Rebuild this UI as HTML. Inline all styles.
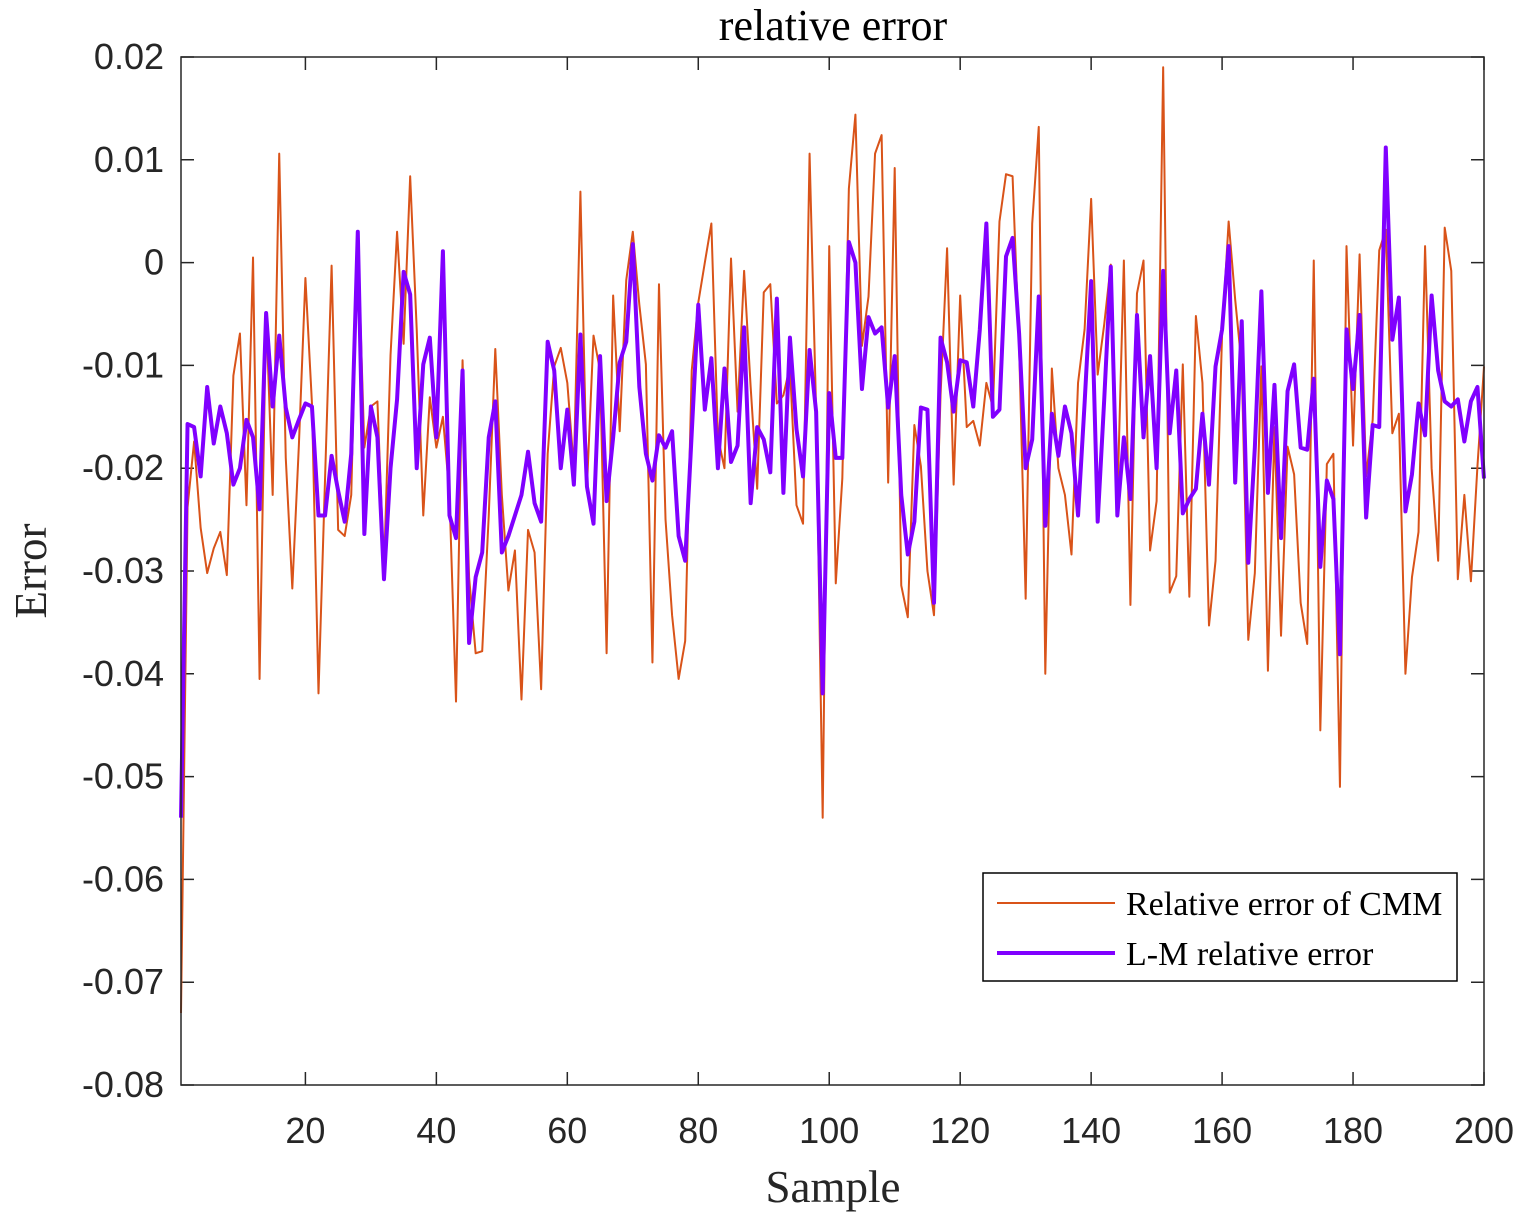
<!DOCTYPE html>
<html><head><meta charset="utf-8"><style>
html,body{margin:0;padding:0;background:#fff;}
svg{display:block;}
</style></head><body>
<svg id="chart" width="1533" height="1227" viewBox="0 0 1533 1227" xmlns="http://www.w3.org/2000/svg">
<rect width="1533" height="1227" fill="#fff"/>
<text x="833" y="40" font-family="Liberation Serif, serif" font-size="44" text-anchor="middle" fill="#000">relative error</text>
<g id="axes"></g>
<g id="series"></g>
<rect x="181" y="57" width="1303" height="1028" fill="none" stroke="#262626" stroke-width="1.5"/>
<text x="833" y="1202" font-family="Liberation Serif, serif" font-size="45" text-anchor="middle" fill="#262626">Sample</text>
<text transform="translate(46,571) rotate(-90)" font-family="Liberation Serif, serif" font-size="45" text-anchor="middle" fill="#262626">Error</text>
<g>
<rect x="983" y="873" width="474" height="108" fill="#fff" stroke="#000" stroke-width="1.5"/>
<line x1="997" y1="903" x2="1115" y2="903" stroke="#D95319" stroke-width="2"/>
<text x="1126" y="915" font-family="Liberation Serif, serif" font-size="34" fill="#000">Relative error of CMM</text>
<line x1="997" y1="953" x2="1115" y2="953" stroke="#8000FF" stroke-width="4"/>
<text x="1126" y="965" font-family="Liberation Serif, serif" font-size="34" fill="#000">L-M relative error</text>
</g>
</svg>
<script>
const xTicks = [20,40,60,80,100,120,140,160,180,200];
const yTicks = [0.02,0.01,0,-0.01,-0.02,-0.03,-0.04,-0.05,-0.06,-0.07,-0.08];
const yTickLabels = ["0.02","0.01","0","-0.01","-0.02","-0.03","-0.04","-0.05","-0.06","-0.07","-0.08"];
const cmmError = [-0.073,-0.0238,-0.0174,-0.0258,-0.0302,-0.0278,-0.0262,-0.0304,-0.011,-0.0069,
-0.0236,0.0005,-0.0405,-0.0049,-0.0226,0.0106,-0.019,-0.0317,-0.0178,-0.0015,
-0.0137,-0.0419,-0.021,-0.0003,-0.026,-0.0266,-0.0226,0.0028,-0.018,-0.014,
-0.0135,-0.030,-0.009,0.003,-0.0079,0.0084,-0.0065,-0.0246,-0.0131,-0.018,
-0.015,-0.0226,-0.0427,-0.0095,-0.0306,-0.038,-0.0378,-0.0246,-0.0084,-0.0226,
-0.0319,-0.028,-0.0425,-0.026,-0.0282,-0.0415,-0.0186,-0.0101,-0.0083,-0.0117,
-0.020,0.0069,-0.0218,-0.0071,-0.0105,-0.038,-0.0032,-0.0164,-0.0017,0.003,
-0.0041,-0.0099,-0.0389,-0.0021,-0.025,-0.0343,-0.0405,-0.0368,-0.0105,-0.0039,
0,0.0038,-0.017,-0.020,0.0004,-0.0145,-0.0008,-0.0121,-0.022,-0.0029,
-0.0021,-0.0137,-0.0129,-0.0101,-0.0236,-0.0254,0.0106,-0.0145,-0.054,0.0016,
-0.0312,-0.021,0.0072,0.0144,-0.0081,-0.0033,0.0106,0.0124,-0.0214,0.0092,
-0.0314,-0.0345,-0.0158,-0.0198,-0.030,-0.0343,-0.0129,0.0014,-0.0216,-0.0032,
-0.016,-0.0154,-0.0178,-0.0117,-0.0141,0.004,0.0086,0.0084,-0.0081,-0.0327,
0.0038,0.0132,-0.040,-0.0103,-0.020,-0.0226,-0.0284,-0.0117,-0.0065,0.0062,
-0.0109,-0.006,-0.0002,-0.0234,0.0002,-0.0333,-0.003,0.0002,-0.028,-0.0232,
0.019,-0.0321,-0.0305,-0.0099,-0.0325,-0.0052,-0.0117,-0.0353,-0.029,-0.0069,
0.004,-0.0036,-0.0101,-0.0367,-0.0302,-0.0101,-0.0397,-0.016,-0.0363,-0.0179,
-0.0206,-0.0331,-0.0371,0.0002,-0.0455,-0.0196,-0.0186,-0.051,0.0016,-0.0178,
0.0008,-0.0208,-0.0153,0.0012,0.0032,-0.0166,-0.0147,-0.040,-0.0306,-0.0262,
0.0016,-0.020,-0.029,0.0034,-0.0008,-0.0308,-0.0226,-0.031,-0.0198,-0.0101];
const lmError = [-0.054,-0.0157,-0.016,-0.0208,-0.0121,-0.0176,-0.014,-0.0166,-0.0216,-0.020,
-0.0153,-0.017,-0.024,-0.0049,-0.014,-0.0071,-0.0141,-0.017,-0.0153,-0.0137,
-0.014,-0.0246,-0.0246,-0.0188,-0.0222,-0.0252,-0.0186,0.003,-0.0264,-0.014,
-0.017,-0.0308,-0.020,-0.0133,-0.0009,-0.0031,-0.020,-0.0099,-0.0073,-0.017,
0.0011,-0.0246,-0.0268,-0.0105,-0.037,-0.0306,-0.0282,-0.017,-0.0135,-0.0282,
-0.0266,-0.0246,-0.0226,-0.0184,-0.0234,-0.0252,-0.0077,-0.0105,-0.020,-0.0143,
-0.0216,-0.007,-0.0218,-0.0254,-0.0091,-0.0232,-0.017,-0.0097,-0.0077,0.0018,
-0.0121,-0.0186,-0.0212,-0.0168,-0.018,-0.0164,-0.0266,-0.029,-0.0166,-0.0041,
-0.0143,-0.0093,-0.020,-0.0103,-0.0194,-0.0178,-0.0063,-0.0234,-0.016,-0.0172,
-0.0204,-0.0035,-0.0224,-0.0073,-0.0162,-0.0208,-0.0085,-0.0145,-0.0419,-0.0127,
-0.019,-0.019,0.002,0,-0.0123,-0.0053,-0.0069,-0.0063,-0.0141,-0.0091,
-0.0226,-0.0284,-0.0252,-0.0141,-0.0143,-0.0331,-0.0073,-0.0097,-0.0145,-0.0095,
-0.0097,-0.014,-0.0065,0.0038,-0.015,-0.0143,0.0006,0.0024,-0.0069,-0.020,
-0.0172,-0.0033,-0.0256,-0.0147,-0.0188,-0.014,-0.0166,-0.0246,-0.0137,-0.0018,
-0.0252,-0.0133,-0.0004,-0.0246,-0.017,-0.023,-0.0051,-0.017,-0.0091,-0.020,
-0.0008,-0.0166,-0.0105,-0.0244,-0.023,-0.022,-0.0147,-0.0216,-0.0101,-0.0065,
0.0016,-0.0214,-0.0057,-0.0292,-0.018,-0.0028,-0.0224,-0.0119,-0.0268,-0.0125,
-0.0099,-0.018,-0.0182,-0.0113,-0.0296,-0.0212,-0.023,-0.0381,-0.0065,-0.0123,
-0.0051,-0.0248,-0.0158,-0.016,0.0112,-0.0075,-0.0034,-0.0242,-0.0206,-0.0137,
-0.0168,-0.0032,-0.0105,-0.0135,-0.014,-0.0133,-0.0174,-0.0135,-0.0121,-0.021];

const NS = 'http://www.w3.org/2000/svg';
const L = 181, R = 1484, T = 57, B = 1085;
function xScale(v){ return L + (v - 1) / 199 * (R - L); }
function yScale(v){ return T + (0.02 - v) / 0.1 * (B - T); }

const axes = document.getElementById('axes');
xTicks.forEach(function(t){
  const x = xScale(t);
  const tk = document.createElementNS(NS, 'path');
  tk.setAttribute('d', 'M' + x + ' ' + B + 'V' + (B - 13) + 'M' + x + ' ' + T + 'V' + (T + 13));
  tk.setAttribute('stroke', '#262626');
  tk.setAttribute('stroke-width', '1.5');
  
  
  axes.appendChild(tk);
  const lb = document.createElementNS(NS, 'text');
  lb.setAttribute('x', x);
  lb.setAttribute('y', 1143);
  lb.setAttribute('text-anchor', 'middle');
  lb.setAttribute('font-family', 'Liberation Sans, sans-serif');
  lb.setAttribute('font-size', '36');
  lb.setAttribute('fill', '#262626');
  lb.textContent = String(t);
  
  
  axes.appendChild(lb);
});
yTicks.forEach(function(t, i){
  const y = yScale(t);
  const tk = document.createElementNS(NS, 'path');
  tk.setAttribute('d', 'M' + L + ' ' + y + 'H' + (L + 13) + 'M' + R + ' ' + y + 'H' + (R - 13));
  tk.setAttribute('stroke', '#262626');
  tk.setAttribute('stroke-width', '1.5');
  
  
  axes.appendChild(tk);
  const lb = document.createElementNS(NS, 'text');
  lb.setAttribute('x', 164);
  lb.setAttribute('y', y + 12);
  lb.setAttribute('text-anchor', 'end');
  lb.setAttribute('font-family', 'Liberation Sans, sans-serif');
  lb.setAttribute('font-size', '36');
  lb.setAttribute('fill', '#262626');
  lb.textContent = yTickLabels[i];
  
  
  axes.appendChild(lb);
});

const series = document.getElementById('series');
function pts(arr){ return arr.map(function(v, i){ return xScale(i + 1).toFixed(2) + ',' + yScale(v).toFixed(2); }).join(' '); }
const cmmLine = document.createElementNS(NS, 'polyline');
cmmLine.setAttribute('points', pts(cmmError));
cmmLine.setAttribute('fill', 'none');
cmmLine.setAttribute('stroke', '#D95319');
cmmLine.setAttribute('stroke-width', '2');
cmmLine.setAttribute('stroke-linejoin', 'round');


series.appendChild(cmmLine);
const lmLine = document.createElementNS(NS, 'polyline');
lmLine.setAttribute('points', pts(lmError));
lmLine.setAttribute('fill', 'none');
lmLine.setAttribute('stroke', '#8000FF');
lmLine.setAttribute('stroke-width', '4');
lmLine.setAttribute('stroke-linejoin', 'round');


series.appendChild(lmLine);
</script>
</body></html>
